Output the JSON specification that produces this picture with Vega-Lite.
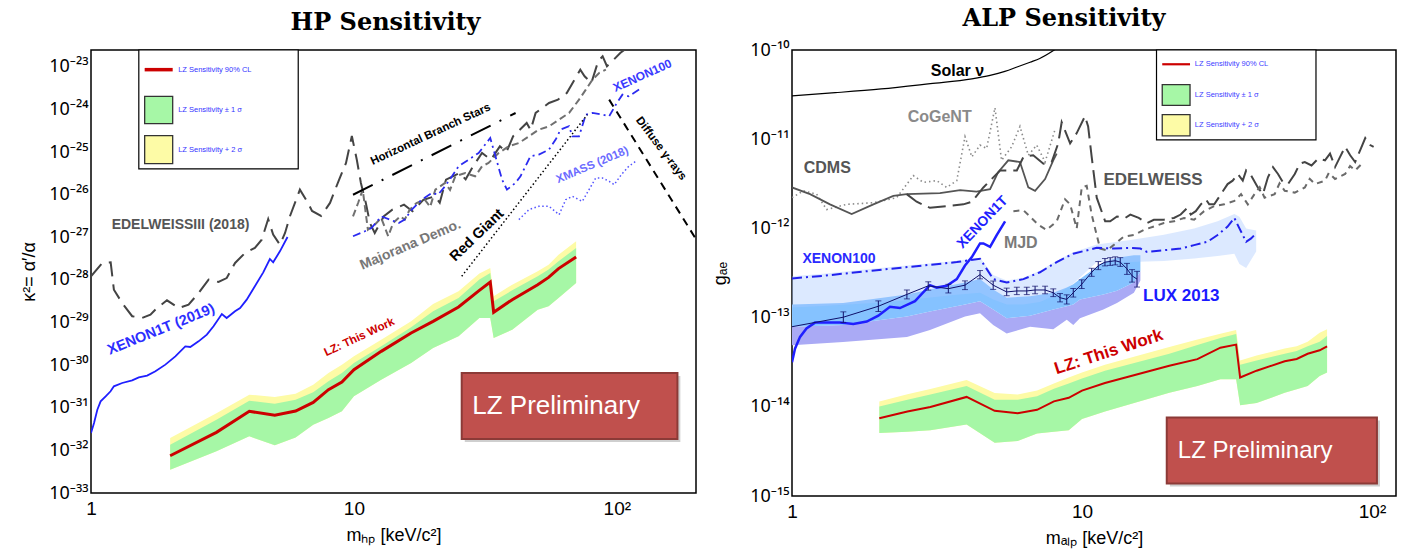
{
 "$schema": "https://vega.github.io/schema/vega-lite/v6.json",
 "background": "white",
 "padding": {"left": 19, "top": 6, "right": 4, "bottom": 4},
 "spacing": 12,
 "config": {
  "view": {"stroke": "#000", "strokeWidth": 1.5},
  "axis": {"domain": false, "grid": false, "labelFont": "Liberation Sans", "labelFontSize": 19, "labelColor": "#000", "titleFont": "Liberation Sans", "titleFontSize": 18, "titleFontWeight": "normal", "titleColor": "#000", "tickColor": "#000", "tickWidth": 1, "tickSize": 0, "labelOverlap": false, "labelFlush": false, "labelBound": false},
  "title": {"font": "DejaVu Serif", "fontSize": 24, "fontWeight": "bold", "color": "#000", "anchor": "middle"},
  "text": {"font": "Liberation Sans"}
 },
 "datasets": {
  "lzL": [
   {"x":2,"y":7.5e-33},{"x":3,"y":2.65e-32},{"x":4,"y":8.26e-32},{"x":5,"y":6.65e-32},{"x":6,"y":8.4e-32},{"x":7,"y":1.34e-31},{"x":8,"y":2.66e-31},{"x":9,"y":4.03e-31},{"x":10,"y":7.85e-31},{"x":12.7,"y":2.11e-30},{"x":16.5,"y":5.7e-30},{"x":20,"y":1.07e-29},{"x":25,"y":2.32e-29},{"x":30,"y":5.71e-29},{"x":33,"y":8.97e-29},{"x":34,"y":1.74e-29},{"x":40,"y":3.45e-29},{"x":50,"y":7.76e-29},{"x":55,"y":1.15e-28},{"x":60,"y":1.85e-28},{"x":70,"y":3.47e-28}
  ],
  "lzLg": [
   {"x":2,"y":3.52e-33,"y2":1.36e-32},{"x":3,"y":9.5e-33,"y2":5.26e-32},{"x":4,"y":2.14e-32,"y2":1.47e-31},{"x":5,"y":1.32e-32,"y2":1.25e-31},{"x":6,"y":2.02e-32,"y2":1.55e-31},{"x":7,"y":4.02e-32,"y2":2.31e-31},{"x":8,"y":5.75e-32,"y2":4.18e-31},{"x":9,"y":8.26e-32,"y2":6.56e-31},{"x":10,"y":1.86e-31,"y2":1.12e-30},{"x":12.7,"y":4.57e-31,"y2":2.77e-30},{"x":16.5,"y":1.12e-30,"y2":7.74e-30},{"x":20,"y":2.53e-30,"y2":1.84e-29},{"x":25,"y":4.75e-30,"y2":3.78e-29},{"x":30,"y":1.28e-29,"y2":1.02e-28},{"x":33,"y":1.28e-29,"y2":1.46e-28},{"x":34,"y":4.35e-30,"y2":3.16e-29},{"x":40,"y":6.82e-30,"y2":5.71e-29},{"x":50,"y":2.01e-29,"y2":1.22e-28},{"x":55,"y":2.41e-29,"y2":1.75e-28},{"x":60,"y":3.78e-29,"y2":2.74e-28},{"x":70,"y":8.49e-29,"y2":5.64e-28}
  ],
  "lzLy": [
   {"x":2,"y":3.52e-33,"y2":1.95e-32},{"x":3,"y":9.5e-33,"y2":7.4e-32},{"x":4,"y":2.14e-32,"y2":2.03e-31},{"x":5,"y":1.32e-32,"y2":1.79e-31},{"x":6,"y":2.02e-32,"y2":2.14e-31},{"x":7,"y":4.02e-32,"y2":3.49e-31},{"x":8,"y":5.75e-32,"y2":6.56e-31},{"x":9,"y":8.26e-32,"y2":1.03e-30},{"x":10,"y":1.86e-31,"y2":1.61e-30},{"x":12.7,"y":4.57e-31,"y2":3.97e-30},{"x":16.5,"y":1.12e-30,"y2":1.07e-29},{"x":20,"y":2.53e-30,"y2":2.73e-29},{"x":25,"y":4.75e-30,"y2":5.42e-29},{"x":30,"y":1.28e-29,"y2":1.41e-28},{"x":33,"y":1.28e-29,"y2":1.91e-28},{"x":34,"y":4.35e-30,"y2":4.13e-29},{"x":40,"y":6.82e-30,"y2":7.76e-29},{"x":50,"y":2.01e-29,"y2":1.6e-28},{"x":55,"y":2.41e-29,"y2":2.29e-28},{"x":60,"y":3.78e-29,"y2":3.93e-28},{"x":70,"y":8.49e-29,"y2":8.07e-28}
  ],
  "edelL": [
   {"x":1.0,"y":1.22e-28},{"x":1.104,"y":2.51e-28},{"x":1.188,"y":2.6e-28},{"x":1.222,"y":5.92e-29},{"x":1.314,"y":2.88e-29},{"x":1.434,"y":1.41e-29},{"x":1.564,"y":1.28e-29},{"x":1.683,"y":1.53e-29},{"x":1.783,"y":2.2e-29},{"x":1.945,"y":3.33e-29},{"x":2.154,"y":2.2e-29},{"x":2.35,"y":2.63e-29},{"x":2.566,"y":4.95e-29},{"x":2.8,"y":1.02e-28},{"x":3.054,"y":8.97e-29},{"x":3.282,"y":1.11e-28},{"x":3.532,"y":2.51e-28},{"x":3.855,"y":4.31e-28},{"x":4.2,"y":5.64e-28},{"x":4.46,"y":8.83e-28},{"x":4.72,"y":2.7e-27},{"x":4.93,"y":1.16e-27},{"x":5.23,"y":6.75e-28},{"x":5.47,"y":1.27e-27},{"x":5.71,"y":3.13e-27},{"x":6.23,"y":1.32e-26},{"x":6.69,"y":6.43e-27},{"x":6.93,"y":4.17e-27},{"x":7.5,"y":3.18e-27},{"x":8.11,"y":6.43e-27},{"x":8.77,"y":2.22e-26},{"x":9.33,"y":5.57e-26},{"x":9.82,"y":2.4e-25},{"x":10.26,"y":6.56e-26},{"x":10.63,"y":1.89e-26},{"x":11.1,"y":6.43e-27},{"x":11.5,"y":2.18e-27},{"x":12.0,"y":1.27e-27},{"x":13.0,"y":3.13e-27},{"x":14.0,"y":4.47e-27},{"x":15.5,"y":5.86e-27},{"x":16.7,"y":4.1e-27},{"x":18.4,"y":7.67e-27},{"x":20.3,"y":9.2e-27},{"x":21.2,"y":6.5e-27},{"x":22.4,"y":2.26e-26},{"x":25.2,"y":3.25e-26},{"x":26.6,"y":2.3e-26},{"x":28.4,"y":4.67e-26},{"x":30.7,"y":9.57e-26},{"x":33.2,"y":6.67e-26},{"x":35.9,"y":1.37e-25},{"x":38.0,"y":1.0e-25},{"x":40.3,"y":2.36e-25},{"x":45.4,"y":4.84e-25},{"x":47.0,"y":3.3e-25},{"x":49.1,"y":8.32e-25},{"x":55.2,"y":1.43e-24},{"x":59.7,"y":1.71e-24},{"x":64.5,"y":2.45e-24},{"x":72.6,"y":8.65e-24},{"x":75.4,"y":6.05e-24},{"x":80.0,"y":4.21e-24},{"x":84.9,"y":1.36e-23},{"x":88.3,"y":1.78e-23},{"x":91.7,"y":1.04e-23},{"x":97.3,"y":1.48e-23},{"x":103,"y":2.13e-23},{"x":107,"y":2.55e-23}
  ],
  "mjdL": [
   {"x":9.92,"y":3.12e-27},{"x":10.37,"y":6.41e-27},{"x":10.8,"y":1.32e-26},{"x":11.3,"y":1.52e-27},{"x":12.0,"y":1.99e-27},{"x":12.7,"y":2.85e-27},{"x":13.5,"y":1.06e-27},{"x":14.1,"y":2.18e-27},{"x":15.0,"y":3.12e-27},{"x":15.6,"y":2.61e-27},{"x":16.3,"y":4.48e-27},{"x":17.3,"y":6.41e-27},{"x":18.6,"y":7.67e-27},{"x":19.5,"y":5.2e-27},{"x":20.4,"y":1.32e-26},{"x":22.2,"y":1.89e-26},{"x":23.2,"y":1.3e-26},{"x":24.3,"y":2.71e-26},{"x":26.5,"y":3.24e-26},{"x":28.9,"y":2.71e-26},{"x":30.7,"y":4.66e-26},{"x":32.5,"y":5.57e-26},{"x":35.5,"y":9.57e-26},{"x":38.8,"y":1.37e-25},{"x":42.4,"y":1.64e-25},{"x":46.3,"y":2.36e-25},{"x":50.5,"y":3.38e-25},{"x":55.2,"y":4.05e-25},{"x":60.3,"y":5.8e-25},{"x":65.8,"y":8.32e-25},{"x":71.8,"y":1.71e-24},{"x":76.2,"y":2.94e-24},{"x":80.8,"y":5.04e-24},{"x":85.6,"y":7.23e-24},{"x":90.8,"y":8.65e-24}
  ],
  "xe1tL": [
   {"x":1.0,"y":2.56e-32},{"x":1.027,"y":4.4e-32},{"x":1.057,"y":9.0e-32},{"x":1.088,"y":1.42e-31},{"x":1.137,"y":1.86e-31},{"x":1.187,"y":2.44e-31},{"x":1.222,"y":3.19e-31},{"x":1.314,"y":3.82e-31},{"x":1.434,"y":4.42e-31},{"x":1.52,"y":5.19e-31},{"x":1.635,"y":5.68e-31},{"x":1.758,"y":7.18e-31},{"x":1.918,"y":1.03e-30},{"x":2.093,"y":1.61e-30},{"x":2.284,"y":2.77e-30},{"x":2.386,"y":2.67e-30},{"x":2.565,"y":3.63e-30},{"x":2.758,"y":5.21e-30},{"x":2.924,"y":8.17e-30},{"x":3.145,"y":1.59e-29},{"x":3.28,"y":1.28e-29},{"x":3.53,"y":1.84e-29},{"x":3.69,"y":2.2e-29},{"x":3.91,"y":3.45e-29},{"x":4.2,"y":7.1e-29},{"x":4.52,"y":1.51e-28},{"x":4.79,"y":3.11e-28},{"x":4.93,"y":2.6e-28},{"x":5.23,"y":4.71e-28},{"x":5.59,"y":1.02e-27}
  ],
  "xe100L": [
   {"x":9.92,"y":1.06e-27},{"x":11.0,"y":1.39e-27},{"x":11.66,"y":1.66e-27},{"x":12.7,"y":3.12e-27},{"x":13.7,"y":2.61e-27},{"x":14.8,"y":2.18e-27},{"x":15.6,"y":2.61e-27},{"x":16.6,"y":4.48e-27},{"x":18.1,"y":7.67e-27},{"x":19.8,"y":1.1e-26},{"x":20.9,"y":1.01e-26},{"x":22.2,"y":1.58e-26},{"x":23.6,"y":2.71e-26},{"x":25.0,"y":4.66e-26},{"x":27.3,"y":6.67e-26},{"x":29.8,"y":9.57e-26},{"x":33.0,"y":2.15e-25},{"x":36.6,"y":2.26e-26},{"x":38.2,"y":1.32e-26},{"x":41.1,"y":1.89e-26},{"x":43.0,"y":2.71e-26},{"x":46.9,"y":8.0e-26},{"x":50.5,"y":8.75e-26},{"x":55.2,"y":1.15e-25},{"x":58.5,"y":1.97e-25},{"x":61.1,"y":3.38e-25},{"x":65.8,"y":4.05e-25},{"x":67.7,"y":2.36e-25},{"x":71.8,"y":2.36e-25},{"x":76.2,"y":7.6e-25},{"x":80.8,"y":8.32e-25},{"x":88.1,"y":7.6e-25},{"x":93.5,"y":6.95e-25},{"x":99.1,"y":1.3e-24},{"x":105,"y":2.24e-24},{"x":111,"y":2.05e-24},{"x":124,"y":3.21e-24}
  ],
  "xmassL": [
   {"x":42.4,"y":2.61e-27},{"x":46.3,"y":4.48e-27},{"x":50.5,"y":5.36e-27},{"x":55.2,"y":5.36e-27},{"x":60.3,"y":3.41e-27},{"x":63.9,"y":7.67e-27},{"x":67.7,"y":9.2e-27},{"x":73.9,"y":7.0e-27},{"x":78.4,"y":1.32e-26},{"x":83.1,"y":2.48e-26},{"x":88.1,"y":2.48e-26},{"x":93.5,"y":2.07e-26},{"x":97.7,"y":1.73e-26},{"x":104,"y":2.96e-26},{"x":111,"y":4.66e-26},{"x":118,"y":6.1e-26}
  ],
  "lzR": [
   {"x":2,"y":7.43e-15},{"x":2.5,"y":8.85e-15},{"x":3,"y":9.93e-15},{"x":4,"y":1.29e-14},{"x":5,"y":9.02e-15},{"x":6,"y":8.48e-15},{"x":7,"y":9.25e-15},{"x":8,"y":1.15e-14},{"x":9,"y":1.26e-14},{"x":10,"y":1.52e-14},{"x":12,"y":1.85e-14},{"x":20,"y":2.89e-14},{"x":25,"y":3.42e-14},{"x":30,"y":4.6e-14},{"x":34,"y":4.98e-14},{"x":35.1,"y":2.13e-14},{"x":40,"y":2.54e-14},{"x":50,"y":3.24e-14},{"x":55,"y":3.44e-14},{"x":60,"y":3.93e-14},{"x":66,"y":4.3e-14},{"x":70,"y":4.77e-14}
  ],
  "lzRg": [
   {"x":2,"y":5.09e-15,"y2":1.01e-14},{"x":2.5,"y":5.24e-15,"y2":1.2e-14},{"x":3,"y":5.47e-15,"y2":1.37e-14},{"x":4,"y":6.35e-15,"y2":1.71e-14},{"x":5,"y":3.95e-15,"y2":1.2e-14},{"x":6,"y":4.13e-15,"y2":1.2e-14},{"x":7,"y":5.01e-15,"y2":1.31e-14},{"x":8,"y":5.24e-15,"y2":1.59e-14},{"x":9,"y":5.47e-15,"y2":1.82e-14},{"x":10,"y":7.31e-15,"y2":2.07e-14},{"x":12,"y":8.85e-15,"y2":2.54e-14},{"x":20,"y":1.44e-14,"y2":3.94e-14},{"x":25,"y":1.71e-14,"y2":4.94e-14},{"x":30,"y":2.04e-14,"y2":5.89e-14},{"x":34,"y":2.04e-14,"y2":6.53e-14},{"x":35.1,"y":1.04e-14,"y2":2.97e-14},{"x":40,"y":1.1e-14,"y2":3.3e-14},{"x":50,"y":1.44e-14,"y2":3.94e-14},{"x":55,"y":1.57e-14,"y2":4.22e-14},{"x":60,"y":1.71e-14,"y2":4.77e-14},{"x":66,"y":2.22e-14,"y2":5.35e-14},{"x":70,"y":2.43e-14,"y2":6.2e-14}
  ],
  "lzRy": [
   {"x":2,"y":5.09e-15,"y2":1.15e-14},{"x":2.5,"y":5.24e-15,"y2":1.38e-14},{"x":3,"y":5.47e-15,"y2":1.58e-14},{"x":4,"y":6.35e-15,"y2":2.0e-14},{"x":5,"y":3.95e-15,"y2":1.43e-14},{"x":6,"y":4.13e-15,"y2":1.37e-14},{"x":7,"y":5.01e-15,"y2":1.52e-14},{"x":8,"y":5.24e-15,"y2":1.82e-14},{"x":9,"y":5.47e-15,"y2":2.13e-14},{"x":10,"y":7.31e-15,"y2":2.43e-14},{"x":12,"y":8.85e-15,"y2":2.97e-14},{"x":20,"y":1.44e-14,"y2":4.69e-14},{"x":25,"y":1.71e-14,"y2":5.68e-14},{"x":30,"y":2.04e-14,"y2":6.59e-14},{"x":34,"y":2.04e-14,"y2":7.26e-14},{"x":35.1,"y":1.04e-14,"y2":3.3e-14},{"x":40,"y":1.1e-14,"y2":3.77e-14},{"x":50,"y":1.44e-14,"y2":4.49e-14},{"x":55,"y":1.57e-14,"y2":4.77e-14},{"x":60,"y":1.71e-14,"y2":5.35e-14},{"x":66,"y":2.22e-14,"y2":6.76e-14},{"x":70,"y":2.43e-14,"y2":7.39e-14}
  ],
  "solarR": [
   {"x":1.0,"y":3.06e-11},{"x":1.41,"y":3.32e-11},{"x":2.03,"y":3.66e-11},{"x":3.0,"y":4.2e-11},{"x":4.17,"y":4.75e-11},{"x":4.82,"y":5.19e-11},{"x":5.42,"y":5.75e-11},{"x":5.97,"y":6.44e-11},{"x":6.62,"y":7.3e-11},{"x":7.15,"y":8.04e-11},{"x":8.1,"y":1.02e-10}
  ],
  "cogentR": [
   {"x":1.0,"y":2.21e-12},{"x":1.094,"y":2.64e-12},{"x":1.216,"y":2.42e-12},{"x":1.317,"y":1.63e-12},{"x":1.388,"y":1.7e-12},{"x":1.543,"y":1.86e-12},{"x":1.908,"y":1.94e-12},{"x":2.296,"y":2.21e-12},{"x":2.62,"y":3.91e-12},{"x":2.838,"y":3.28e-12},{"x":3.155,"y":3.43e-12},{"x":3.415,"y":2.88e-12},{"x":3.7,"y":3.43e-12},{"x":3.95,"y":1.07e-11},{"x":4.17,"y":6.33e-12},{"x":4.45,"y":8.59e-12},{"x":4.69,"y":7.87e-12},{"x":5.01,"y":2.25e-11},{"x":5.28,"y":5.8e-12},{"x":5.72,"y":8.22e-12},{"x":6.11,"y":1.39e-11},{"x":6.53,"y":6.61e-12},{"x":6.98,"y":8.59e-12},{"x":7.46,"y":5.55e-12},{"x":8.07,"y":1.28e-11}
  ],
  "cdmsR": [
   {"x":1.0,"y":2.88e-12},{"x":1.154,"y":2.42e-12},{"x":1.352,"y":1.86e-12},{"x":1.606,"y":1.45e-12},{"x":1.908,"y":1.86e-12},{"x":2.236,"y":2.31e-12},{"x":2.486,"y":2.42e-12},{"x":3.237,"y":2.48e-12},{"x":3.8,"y":2.68e-12},{"x":4.33,"y":2.59e-12},{"x":4.82,"y":2.75e-12},{"x":5.14,"y":4.27e-12},{"x":5.57,"y":5.8e-12},{"x":6.11,"y":5.55e-12},{"x":6.53,"y":2.88e-12},{"x":6.89,"y":2.64e-12},{"x":7.46,"y":3.58e-12},{"x":7.96,"y":5.8e-12},{"x":8.18,"y":6.9e-12}
  ],
  "edelR": [
   {"x":2.486,"y":2.42e-12},{"x":2.69,"y":1.99e-12},{"x":2.99,"y":1.7e-12},{"x":3.415,"y":1.78e-12},{"x":3.9,"y":1.86e-12},{"x":4.17,"y":1.99e-12},{"x":4.57,"y":2.88e-12},{"x":5.22,"y":4.46e-12},{"x":5.96,"y":4.46e-12},{"x":6.28,"y":6.33e-12},{"x":6.79,"y":6.61e-12},{"x":7.36,"y":5.31e-12},{"x":7.86,"y":5.55e-12},{"x":8.28,"y":8.97e-12},{"x":8.51,"y":1.55e-11},{"x":9.1,"y":8.97e-12},{"x":9.59,"y":1.17e-11},{"x":10.24,"y":1.81e-11},{"x":10.5,"y":1.39e-11},{"x":10.8,"y":6.33e-12},{"x":11.24,"y":2.21e-12},{"x":12.02,"y":1.2e-12},{"x":12.51,"y":1.2e-12},{"x":13.2,"y":1.36e-12},{"x":14.1,"y":1.31e-12},{"x":14.68,"y":1.43e-12},{"x":15.69,"y":1.31e-12},{"x":16.77,"y":1.15e-12},{"x":17.69,"y":1.25e-12},{"x":19.16,"y":1.25e-12},{"x":20.75,"y":1.31e-12},{"x":21.89,"y":1.43e-12},{"x":23.09,"y":1.7e-12},{"x":23.71,"y":1.43e-12},{"x":24.68,"y":1.56e-12},{"x":25.69,"y":1.86e-12},{"x":26.73,"y":2.12e-12},{"x":27.46,"y":1.86e-12},{"x":28.58,"y":1.86e-12},{"x":30.14,"y":2.42e-12},{"x":31.78,"y":3.14e-12},{"x":33.08,"y":3.43e-12},{"x":34.43,"y":4.08e-12},{"x":35.84,"y":3.43e-12},{"x":36.81,"y":4.46e-12},{"x":38.3,"y":3.91e-12},{"x":40.4,"y":2.88e-12},{"x":42.06,"y":2.42e-12},{"x":43.77,"y":3.74e-12},{"x":45.56,"y":4.87e-12},{"x":47.41,"y":4.08e-12},{"x":49.35,"y":3.28e-12},{"x":51.35,"y":3.14e-12},{"x":54.17,"y":4.08e-12},{"x":56.36,"y":5.31e-12},{"x":58.67,"y":5.55e-12},{"x":61.87,"y":5.08e-12},{"x":65.27,"y":6.05e-12},{"x":68.85,"y":5.8e-12},{"x":71.65,"y":6.9e-12},{"x":74.58,"y":4.87e-12},{"x":77.62,"y":6.33e-12},{"x":80.79,"y":8.22e-12},{"x":84.09,"y":6.61e-12},{"x":87.5,"y":5.55e-12},{"x":91.07,"y":7.53e-12},{"x":94.78,"y":1.03e-11},{"x":98.6,"y":8.59e-12},{"x":101.3,"y":8.22e-12}
  ],
  "mjdR": [
   {"x":5.8,"y":1.56e-12},{"x":6.28,"y":1.6e-12},{"x":7.07,"y":1.1e-12},{"x":7.55,"y":9.6e-13},{"x":8.18,"y":1.2e-12},{"x":8.74,"y":2.12e-12},{"x":9.1,"y":1.86e-12},{"x":9.59,"y":1.0e-12},{"x":9.98,"y":2.88e-12},{"x":10.38,"y":3.0e-12},{"x":10.8,"y":1.43e-12},{"x":11.24,"y":8.4e-13},{"x":11.55,"y":5.94e-13},{"x":12.18,"y":5.69e-13},{"x":12.85,"y":6.49e-13},{"x":13.92,"y":8.07e-13},{"x":15.08,"y":8.43e-13},{"x":16.33,"y":9.62e-13},{"x":17.69,"y":1.05e-12},{"x":19.16,"y":1.15e-12},{"x":20.75,"y":1.2e-12},{"x":22.48,"y":1.31e-12},{"x":24.35,"y":1.25e-12},{"x":26.37,"y":1.56e-12},{"x":28.58,"y":1.78e-12},{"x":30.95,"y":1.86e-12},{"x":33.53,"y":2.03e-12},{"x":35.36,"y":2.42e-12},{"x":37.31,"y":1.86e-12},{"x":39.34,"y":2.42e-12},{"x":41.0,"y":2.9e-12},{"x":42.61,"y":2.21e-12},{"x":46.16,"y":2.42e-12},{"x":48.0,"y":3.2e-12},{"x":50.0,"y":2.64e-12},{"x":54.17,"y":2.52e-12},{"x":58.67,"y":2.88e-12},{"x":61.0,"y":3.6e-12},{"x":63.56,"y":3.14e-12},{"x":68.85,"y":3.43e-12},{"x":71.0,"y":4.2e-12},{"x":74.58,"y":3.58e-12},{"x":80.79,"y":4.08e-12},{"x":84.0,"y":5.0e-12},{"x":87.5,"y":4.46e-12},{"x":93.5,"y":5.55e-12}
  ],
  "xe100R": [
   {"x":1.0,"y":2.75e-13},{"x":1.282,"y":2.94e-13},{"x":1.671,"y":3.22e-13},{"x":2.177,"y":3.52e-13},{"x":2.838,"y":3.84e-13},{"x":3.7,"y":4.19e-13},{"x":4.45,"y":4.57e-13},{"x":4.69,"y":3.52e-13},{"x":4.94,"y":2.7e-13},{"x":5.5,"y":2.47e-13},{"x":6.28,"y":2.7e-13},{"x":7.16,"y":3.22e-13},{"x":8.18,"y":4.19e-13},{"x":9.33,"y":5.21e-13},{"x":11.24,"y":6.05e-13},{"x":12.85,"y":5.94e-13},{"x":14.68,"y":6.05e-13},{"x":15.9,"y":5.94e-13},{"x":16.77,"y":5.45e-13},{"x":19.16,"y":5.69e-13},{"x":21.89,"y":5.94e-13},{"x":24.35,"y":6.49e-13},{"x":27.1,"y":7.08e-13},{"x":29.35,"y":8.43e-13},{"x":31.78,"y":1.05e-12},{"x":33.53,"y":1.31e-12},{"x":34.9,"y":1.0e-12},{"x":36.81,"y":7.08e-13},{"x":38.3,"y":7.73e-13},{"x":39.87,"y":8.81e-13}
  ],
  "xe100bandR": [
   {"x":1.0,"y":1.3e-13,"y2":2.9e-13},{"x":1.28,"y":1.35e-13,"y2":3.1e-13},{"x":2.18,"y":1.5e-13,"y2":3.7e-13},{"x":2.84,"y":1.65e-13,"y2":4.0e-13},{"x":3.7,"y":1.8e-13,"y2":4.35e-13},{"x":4.45,"y":1.9e-13,"y2":4.7e-13},{"x":4.94,"y":1.6e-13,"y2":3.0e-13},{"x":5.5,"y":1.4e-13,"y2":2.6e-13},{"x":6.28,"y":1.4e-13,"y2":2.8e-13},{"x":7.16,"y":1.5e-13,"y2":3.35e-13},{"x":8.18,"y":1.8e-13,"y2":4.35e-13},{"x":9.33,"y":2.4e-13,"y2":5.4e-13},{"x":11.24,"y":4.2e-13,"y2":6.6e-13},{"x":14.68,"y":4.2e-13,"y2":7.4e-13},{"x":19.16,"y":4.3e-13,"y2":8.5e-13},{"x":24.35,"y":4.6e-13,"y2":1.0e-12},{"x":29.35,"y":4.9e-13,"y2":1.2e-12},{"x":33.53,"y":5.2e-13,"y2":1.45e-12},{"x":34.9,"y":4.0e-13,"y2":1.35e-12},{"x":36.81,"y":3.6e-13,"y2":1.0e-12},{"x":39.87,"y":5.5e-13,"y2":9.5e-13}
  ],
  "xe1tR": [
   {"x":1.0,"y":3.16e-14},{"x":1.024,"y":4.48e-14},{"x":1.066,"y":6.08e-14},{"x":1.122,"y":7.57e-14},{"x":1.2,"y":8.79e-14},{"x":1.282,"y":8.79e-14},{"x":1.464,"y":8.79e-14},{"x":1.627,"y":8.49e-14},{"x":1.81,"y":9.03e-14},{"x":1.985,"y":1.05e-13},{"x":2.177,"y":1.32e-13},{"x":2.357,"y":1.28e-13},{"x":2.655,"y":1.53e-13},{"x":2.99,"y":2.31e-13},{"x":3.155,"y":2.17e-13},{"x":3.415,"y":2.27e-13},{"x":3.7,"y":2.7e-13},{"x":3.95,"y":3.83e-13},{"x":4.17,"y":4.77e-13},{"x":4.45,"y":6.78e-13},{"x":4.57,"y":6.78e-13},{"x":4.82,"y":6.21e-13},{"x":5.08,"y":8.43e-13},{"x":5.43,"y":1.2e-12}
  ],
  "luxLav": [
   {"x":1.0,"y":4.89e-14,"y2":7.9e-14},{"x":1.5,"y":5.33e-14,"y2":8.26e-14},{"x":2.49,"y":6.08e-14,"y2":1.03e-13},{"x":2.99,"y":7.24e-14,"y2":1.17e-13},{"x":3.95,"y":1.03e-13,"y2":1.4e-13},{"x":4.45,"y":1.12e-13,"y2":1.53e-13},{"x":4.94,"y":8.26e-14,"y2":1.23e-13},{"x":5.5,"y":6.64e-14,"y2":9.86e-14},{"x":6.62,"y":7.9e-14,"y2":1.05e-13},{"x":7.96,"y":7.38e-14,"y2":1.23e-13},{"x":8.86,"y":9.44e-14,"y2":1.34e-13},{"x":9.33,"y":8.26e-14,"y2":1.4e-13},{"x":9.84,"y":9.86e-14,"y2":1.6e-13},{"x":11.85,"y":1.23e-13,"y2":1.82e-13},{"x":13.2,"y":1.46e-13,"y2":2.0e-13},{"x":15.1,"y":1.9e-13,"y2":2.48e-13},{"x":15.9,"y":2.6e-13,"y2":3.3e-13}
  ],
  "luxBlue": [
   {"x":1.0,"y":7.9e-14,"y2":1.4e-13},{"x":1.5,"y":8.26e-14,"y2":1.46e-13},{"x":2.49,"y":1.03e-13,"y2":1.82e-13},{"x":2.99,"y":1.17e-13,"y2":2.07e-13},{"x":3.95,"y":1.4e-13,"y2":2.47e-13},{"x":4.45,"y":1.53e-13,"y2":2.7e-13},{"x":4.94,"y":1.23e-13,"y2":2.07e-13},{"x":5.5,"y":9.86e-14,"y2":1.67e-13},{"x":6.62,"y":1.05e-13,"y2":1.74e-13},{"x":7.96,"y":1.23e-13,"y2":1.9e-13},{"x":8.86,"y":1.34e-13,"y2":2.17e-13},{"x":9.33,"y":1.4e-13,"y2":2.37e-13},{"x":9.84,"y":1.6e-13,"y2":2.7e-13},{"x":11.85,"y":1.82e-13,"y2":4.18e-13},{"x":13.2,"y":2.0e-13,"y2":4.7e-13},{"x":15.1,"y":2.48e-13,"y2":5.0e-13},{"x":15.9,"y":3.3e-13,"y2":5.0e-13}
  ],
  "luxR": [
   {"x":1.0,"y":7.9e-14},{"x":1.503,"y":1.01e-13},{"x":1.985,"y":1.34e-13},{"x":2.49,"y":1.82e-13},{"x":2.95,"y":2.27e-13},{"x":3.46,"y":2.11e-13},{"x":3.95,"y":2.31e-13},{"x":4.45,"y":3.03e-13},{"x":4.94,"y":2.31e-13},{"x":5.5,"y":1.94e-13},{"x":5.96,"y":1.99e-13},{"x":6.45,"y":1.99e-13},{"x":6.89,"y":2.04e-13},{"x":7.46,"y":2.04e-13},{"x":7.96,"y":1.9e-13},{"x":8.4,"y":1.67e-13},{"x":8.86,"y":1.6e-13},{"x":9.33,"y":1.9e-13},{"x":9.98,"y":2.37e-13},{"x":10.8,"y":3.22e-13},{"x":11.38,"y":3.83e-13},{"x":12.0,"y":4.18e-13},{"x":12.51,"y":4.26e-13},{"x":13.02,"y":4.34e-13},{"x":13.55,"y":4.19e-13},{"x":14.29,"y":3.52e-13},{"x":14.88,"y":2.94e-13},{"x":15.48,"y":2.7e-13}
  ],
  "luxErr": [
   {"x":1.503,"y":8.8e-14,"y2":1.16e-13},{"x":1.985,"y":1.17e-13,"y2":1.54e-13},{"x":2.49,"y":1.62e-13,"y2":2.04e-13},{"x":2.95,"y":2.03e-13,"y2":2.52e-13},{"x":3.46,"y":1.89e-13,"y2":2.36e-13},{"x":3.95,"y":2.06e-13,"y2":2.58e-13},{"x":4.45,"y":2.72e-13,"y2":3.37e-13},{"x":4.94,"y":2.07e-13,"y2":2.57e-13},{"x":5.5,"y":1.76e-13,"y2":2.14e-13},{"x":5.96,"y":1.81e-13,"y2":2.19e-13},{"x":6.45,"y":1.81e-13,"y2":2.19e-13},{"x":6.89,"y":1.85e-13,"y2":2.25e-13},{"x":7.46,"y":1.85e-13,"y2":2.25e-13},{"x":7.96,"y":1.72e-13,"y2":2.1e-13},{"x":8.4,"y":1.5e-13,"y2":1.86e-13},{"x":8.86,"y":1.42e-13,"y2":1.8e-13},{"x":9.33,"y":1.7e-13,"y2":2.12e-13},{"x":9.98,"y":2.12e-13,"y2":2.65e-13},{"x":10.8,"y":2.9e-13,"y2":3.57e-13},{"x":11.38,"y":3.45e-13,"y2":4.25e-13},{"x":12.0,"y":3.8e-13,"y2":4.6e-13},{"x":12.51,"y":3.85e-13,"y2":4.7e-13},{"x":13.02,"y":3.9e-13,"y2":4.8e-13},{"x":13.55,"y":3.75e-13,"y2":4.7e-13},{"x":14.29,"y":3.05e-13,"y2":4.05e-13},{"x":14.88,"y":2.5e-13,"y2":3.45e-13},{"x":15.48,"y":2.2e-13,"y2":3.3e-13}
  ]
 },
 "hconcat": [
  {
   "title": {"text": "HP Sensitivity", "offset": -9, "baseline": "alphabetic", "dx": -8},
   "width": 605,
   "height": 443,
   "encoding": {
    "x": {"field": "x", "type": "quantitative", "scale": {"type": "log", "domain": [1, 200], "nice": false},
     "axis": {"title": "mₕₚ [keV/c²]", "values": [1,2,3,4,5,6,7,8,9,10,20,30,40,50,60,70,80,90,100,200],
      "labelExpr": "datum.value == 1 ? '1' : datum.value == 10 ? '10' : datum.value == 100 ? '10²' : ''",
      "labelPadding": 6, "titlePadding": 8,
      "encode": {"ticks": {"update": {"y2": {"signal": "(datum.value == 1 || datum.value == 10 || datum.value == 100) ? -13 : -7"}}}}}},
    "y": {"field": "y", "type": "quantitative", "scale": {"type": "log", "domain": [1e-33, 2.5e-23], "nice": false},
     "axis": {"title": "κ²= α′/α", "labelFont": "Noto Sans", "labelFontSize": 18, "values": [1e-33,2e-33,3e-33,4e-33,5e-33,6e-33,7e-33,8e-33,9e-33,1e-32,2e-32,3e-32,4e-32,5e-32,6e-32,7e-32,8e-32,9e-32,1e-31,2e-31,3e-31,4e-31,5e-31,6e-31,7e-31,8e-31,9e-31,1e-30,2e-30,3e-30,4e-30,5e-30,6e-30,7e-30,8e-30,9e-30,1e-29,2e-29,3e-29,4e-29,5e-29,6e-29,7e-29,8e-29,9e-29,1e-28,2e-28,3e-28,4e-28,5e-28,6e-28,7e-28,8e-28,9e-28,1e-27,2e-27,3e-27,4e-27,5e-27,6e-27,7e-27,8e-27,9e-27,1e-26,2e-26,3e-26,4e-26,5e-26,6e-26,7e-26,8e-26,9e-26,1e-25,2e-25,3e-25,4e-25,5e-25,6e-25,7e-25,8e-25,9e-25,1e-24,2e-24,3e-24,4e-24,5e-24,6e-24,7e-24,8e-24,9e-24,1e-23,2e-23],
      "labelExpr": "abs(log(datum.value)/LN10 - round(log(datum.value)/LN10)) < 0.001 ? '10⁻' + ['⁰','¹','²','³','⁴','⁵','⁶','⁷','⁸','⁹'][floor(-round(log(datum.value)/LN10)/10)] + ['⁰','¹','²','³','⁴','⁵','⁶','⁷','⁸','⁹'][(-round(log(datum.value)/LN10)) % 10] : ''",
      "labelPadding": 3, "titlePadding": 10,
      "encode": {"ticks": {"update": {"x2": {"signal": "abs(log(datum.value)/LN10 - round(log(datum.value)/LN10)) < 0.001 ? 16 : 8"}}}}}}
   },
   "layer": [
    {"data": {"name": "lzLy"}, "mark": {"type": "area", "clip": true, "color": "#fdfba6"}, "encoding": {"y2": {"field": "y2"}}},
    {"data": {"name": "lzLg"}, "mark": {"type": "area", "clip": true, "color": "#a6f7a6"}, "encoding": {"y2": {"field": "y2"}}},
    {"data": {"name": "lzL"}, "mark": {"type": "line", "clip": true, "strokeWidth": 3, "color": "#cc0000"}},
    {"data": {"name": "edelL"}, "mark": {"type": "line", "clip": true, "color": "#444444", "strokeWidth": 2, "strokeDash": [16, 8]}},
    {"data": {"name": "mjdL"}, "mark": {"type": "line", "clip": true, "color": "#707070", "strokeWidth": 2, "strokeDash": [7, 4]}},
    {"data": {"name": "xe1tL"}, "mark": {"type": "line", "clip": true, "color": "#1f1fff", "strokeWidth": 1.8}},
    {"data": {"name": "xe100L"}, "mark": {"type": "line", "clip": true, "color": "#2b2bf0", "strokeWidth": 1.8, "strokeDash": [8, 4, 2, 4]}},
    {"data": {"name": "xmassL"}, "mark": {"type": "line", "clip": true, "color": "#5555ff", "strokeWidth": 1.5, "strokeDash": [1.5, 2.5]}},
    {"data": {"values": [{"x": 9.92, "y": 1.0e-26}, {"x": 41.2, "y": 8.3e-25}]}, "mark": {"type": "line", "clip": true, "color": "#000", "strokeWidth": 2, "strokeDash": [22, 10, 2, 10]}},
    {"data": {"values": [{"x": 25.7, "y": 1.22e-28}, {"x": 77.2, "y": 7.6e-25}]}, "mark": {"type": "line", "clip": true, "color": "#000", "strokeWidth": 1.5, "strokeDash": [1.5, 2.5]}},
    {"data": {"values": [{"x": 93.5, "y": 1.71e-24}, {"x": 200, "y": 9.1e-28}]}, "mark": {"type": "line", "clip": true, "color": "#000", "strokeWidth": 2, "strokeDash": [8, 6]}},
    {"data": {"values": [{"x": 1.52, "x2": 6.14, "y": 4.04e-26, "y2": 2.5e-23}]}, "mark": {"type": "rect", "fill": "#ffffff", "stroke": "#000", "strokeWidth": 1.2}, "encoding": {"x2": {"field": "x2"}, "y2": {"field": "y2"}}},
    {"data": {"values": [{"x": 1.6, "x2": 2.045, "y": 8.64e-24}]}, "mark": {"type": "rule", "color": "#cc0000", "strokeWidth": 3.5}, "encoding": {"x2": {"field": "x2"}}},
    {"data": {"values": [{"x": 1.6, "x2": 2.045, "y": 4.66e-25, "y2": 2.05e-24}]}, "mark": {"type": "rect", "fill": "#a6f7a6", "stroke": "#333", "strokeWidth": 1.3}, "encoding": {"x2": {"field": "x2"}, "y2": {"field": "y2"}}},
    {"data": {"values": [{"x": 1.6, "x2": 2.045, "y": 5.37e-26, "y2": 2.44e-25}]}, "mark": {"type": "rect", "fill": "#fdfba6", "stroke": "#333", "strokeWidth": 1.3}, "encoding": {"x2": {"field": "x2"}, "y2": {"field": "y2"}}},
    {"data": {"values": [{"x": 2.145, "y": 8.64e-24, "t": "LZ Sensitivity 90% CL"}, {"x": 2.145, "y": 9.95e-25, "t": "LZ Sensitivity ± 1 σ"}, {"x": 2.145, "y": 1.15e-25, "t": "LZ Sensitivity + 2 σ"}]}, "mark": {"type": "text", "align": "left", "fontSize": 7.5, "color": "#3333ff"}, "encoding": {"text": {"field": "t"}}},
    {"data": {"values": [{"x": 26.4, "x2": 174.4, "y": 1.57e-32, "y2": 5.58e-31}]}, "mark": {"type": "rect", "fill": "#a0a0a0", "opacity": 0.5}, "encoding": {"x2": {"field": "x2"}, "y2": {"field": "y2"}}},
    {"data": {"values": [{"x": 25.7, "x2": 170, "y": 1.85e-32, "y2": 6.56e-31}]}, "mark": {"type": "rect", "fill": "#c0504d", "stroke": "#8c3a37", "strokeWidth": 2}, "encoding": {"x2": {"field": "x2"}, "y2": {"field": "y2"}}},
    {"data": {"values": [{"x": 28.2, "y": 7.15e-32, "t": "LZ Preliminary"}]}, "mark": {"type": "text", "align": "left", "baseline": "alphabetic", "fontSize": 26, "color": "#ffffff"}, "encoding": {"text": {"field": "t"}}},
    {"data": {"values": [{"x": 2.19, "y": 1.9e-27, "t": "EDELWEISSIII (2018)"}]}, "mark": {"type": "text", "fontWeight": "bold", "fontSize": 14, "color": "#555555"}, "encoding": {"text": {"field": "t"}}},
    {"data": {"values": [{"x": 1.85, "y": 6.8e-30, "t": "XENON1T (2019)"}]}, "mark": {"type": "text", "fontWeight": "bold", "fontSize": 14.5, "color": "#2d2dff", "angle": -22}, "encoding": {"text": {"field": "t"}}},
    {"data": {"values": [{"x": 16.4, "y": 6.64e-28, "t": "Majorana Demo."}]}, "mark": {"type": "text", "fontWeight": "bold", "fontSize": 14, "color": "#777777", "angle": -23}, "encoding": {"text": {"field": "t"}}},
    {"data": {"values": [{"x": 29.4, "y": 1.11e-27, "t": "Red Giant"}]}, "mark": {"type": "text", "fontWeight": "bold", "fontSize": 14.5, "color": "#000000", "angle": -44}, "encoding": {"text": {"field": "t"}}},
    {"data": {"values": [{"x": 19.6, "y": 2.58e-25, "t": "Horizontal Branch Stars"}]}, "mark": {"type": "text", "fontWeight": "bold", "fontSize": 11.5, "color": "#000000", "angle": -25}, "encoding": {"text": {"field": "t"}}},
    {"data": {"values": [{"x": 125, "y": 6.3e-24, "t": "XENON100"}]}, "mark": {"type": "text", "fontWeight": "bold", "fontSize": 12, "color": "#3a3aff", "angle": -24}, "encoding": {"text": {"field": "t"}}},
    {"data": {"values": [{"x": 80.8, "y": 4.88e-26, "t": "XMASS (2018)"}]}, "mark": {"type": "text", "fontWeight": "bold", "fontSize": 11.5, "color": "#6b6bff", "angle": -23}, "encoding": {"text": {"field": "t"}}},
    {"data": {"values": [{"x": 147, "y": 1.2e-25, "t": "Diffuse γ-rays"}]}, "mark": {"type": "text", "fontWeight": "bold", "fontSize": 11.5, "color": "#000000", "angle": 53}, "encoding": {"text": {"field": "t"}}},
    {"data": {"values": [{"x": 10.5, "y": 4.47e-30, "t": "LZ: This Work"}]}, "mark": {"type": "text", "fontWeight": "bold", "fontSize": 11.5, "color": "#cc0000", "angle": -25}, "encoding": {"text": {"field": "t"}}}
   ]
  },
  {
   "title": {"text": "ALP Sensitivity", "offset": -9, "baseline": "alphabetic", "dx": -30},
   "width": 604,
   "height": 446,
   "encoding": {
    "x": {"field": "x", "type": "quantitative", "scale": {"type": "log", "domain": [1, 121], "nice": false},
     "axis": {"title": "mₐₗₚ [keV/c²]", "values": [1,2,3,4,5,6,7,8,9,10,20,30,40,50,60,70,80,90,100],
      "labelExpr": "datum.value == 1 ? '1' : datum.value == 10 ? '10' : datum.value == 100 ? '10²' : ''",
      "labelPadding": 6, "titlePadding": 8,
      "encode": {"ticks": {"update": {"y2": {"signal": "(datum.value == 1 || datum.value == 10 || datum.value == 100) ? -13 : -7"}}}}}},
    "y": {"field": "y", "type": "quantitative", "scale": {"type": "log", "domain": [1e-15, 1e-10], "nice": false},
     "axis": {"title": "gₐₑ", "labelFont": "Noto Sans", "labelFontSize": 18, "values": [1e-15,2e-15,3e-15,4e-15,5e-15,6e-15,7e-15,8e-15,9e-15,1e-14,2e-14,3e-14,4e-14,5e-14,6e-14,7e-14,8e-14,9e-14,1e-13,2e-13,3e-13,4e-13,5e-13,6e-13,7e-13,8e-13,9e-13,1e-12,2e-12,3e-12,4e-12,5e-12,6e-12,7e-12,8e-12,9e-12,1e-11,2e-11,3e-11,4e-11,5e-11,6e-11,7e-11,8e-11,9e-11,1e-10],
      "labelExpr": "abs(log(datum.value)/LN10 - round(log(datum.value)/LN10)) < 0.001 ? '10⁻' + ['⁰','¹','²','³','⁴','⁵','⁶','⁷','⁸','⁹'][floor(-round(log(datum.value)/LN10)/10)] + ['⁰','¹','²','³','⁴','⁵','⁶','⁷','⁸','⁹'][(-round(log(datum.value)/LN10)) % 10] : ''",
      "labelPadding": 3, "titlePadding": 20,
      "encode": {"ticks": {"update": {"x2": {"signal": "abs(log(datum.value)/LN10 - round(log(datum.value)/LN10)) < 0.001 ? 16 : 8"}}}}}}
   },
   "layer": [
    {"data": {"name": "luxLav"}, "mark": {"type": "area", "clip": true, "color": "#aaaaf5"}, "encoding": {"y2": {"field": "y2"}}},
    {"data": {"name": "luxBlue"}, "mark": {"type": "area", "clip": true, "color": "#85c2ff"}, "encoding": {"y2": {"field": "y2"}}},
    {"data": {"name": "xe100bandR"}, "mark": {"type": "area", "clip": true, "color": "#a8c8ff", "opacity": 0.4}, "encoding": {"y2": {"field": "y2"}}},
    {"data": {"name": "solarR"}, "mark": {"type": "line", "clip": true, "color": "#000", "strokeWidth": 1.2, "interpolate": "monotone"}},
    {"data": {"name": "cogentR"}, "mark": {"type": "line", "clip": true, "color": "#8a8a8a", "strokeWidth": 1.6, "strokeDash": [1.5, 3]}},
    {"data": {"name": "cdmsR"}, "mark": {"type": "line", "clip": true, "color": "#555555", "strokeWidth": 1.8}},
    {"data": {"name": "edelR"}, "mark": {"type": "line", "clip": true, "color": "#444444", "strokeWidth": 2, "strokeDash": [18, 7]}},
    {"data": {"name": "mjdR"}, "mark": {"type": "line", "clip": true, "color": "#6a6a6a", "strokeWidth": 2, "strokeDash": [6, 5]}},
    {"data": {"name": "xe100R"}, "mark": {"type": "line", "clip": true, "color": "#2222ee", "strokeWidth": 2, "strokeDash": [10, 4, 2, 4]}},
    {"data": {"name": "xe1tR"}, "mark": {"type": "line", "clip": true, "color": "#1f1fff", "strokeWidth": 2.5}},
    {"data": {"name": "luxR"}, "mark": {"type": "line", "clip": true, "color": "#10106a", "strokeWidth": 1}},
    {"data": {"name": "luxErr"}, "mark": {"type": "errorbar", "ticks": {"size": 6, "thickness": 1}, "color": "#10106a", "thickness": 1}, "encoding": {"y2": {"field": "y2"}}},
    {"data": {"name": "lzRy"}, "mark": {"type": "area", "clip": true, "color": "#fdfba6"}, "encoding": {"y2": {"field": "y2"}}},
    {"data": {"name": "lzRg"}, "mark": {"type": "area", "clip": true, "color": "#a6f7a6"}, "encoding": {"y2": {"field": "y2"}}},
    {"data": {"name": "lzR"}, "mark": {"type": "line", "clip": true, "strokeWidth": 2, "color": "#cc0000"}},
    {"data": {"values": [{"x": 18.07, "x2": 64.1, "y": 9.82e-12, "y2": 1e-10}]}, "mark": {"type": "rect", "fill": "#ffffff", "stroke": "#000", "strokeWidth": 1.2}, "encoding": {"x2": {"field": "x2"}, "y2": {"field": "y2"}}},
    {"data": {"values": [{"x": 18.91, "x2": 23.58, "y": 6.92e-11}]}, "mark": {"type": "rule", "color": "#cc0000", "strokeWidth": 2.2}, "encoding": {"x2": {"field": "x2"}}},
    {"data": {"values": [{"x": 18.91, "x2": 23.58, "y": 2.4e-11, "y2": 4.09e-11}]}, "mark": {"type": "rect", "fill": "#a6f7a6", "stroke": "#333", "strokeWidth": 1.3}, "encoding": {"x2": {"field": "x2"}, "y2": {"field": "y2"}}},
    {"data": {"values": [{"x": 18.91, "x2": 23.58, "y": 1.09e-11, "y2": 1.89e-11}]}, "mark": {"type": "rect", "fill": "#fdfba6", "stroke": "#333", "strokeWidth": 1.3}, "encoding": {"x2": {"field": "x2"}, "y2": {"field": "y2"}}},
    {"data": {"values": [{"x": 24.5, "y": 6.92e-11, "t": "LZ Sensitivity 90% CL"}, {"x": 24.5, "y": 3.17e-11, "t": "LZ Sensitivity ± 1 σ"}, {"x": 24.5, "y": 1.46e-11, "t": "LZ Sensitivity + 2 σ"}]}, "mark": {"type": "text", "align": "left", "fontSize": 7.5, "color": "#4040ff"}, "encoding": {"text": {"field": "t"}}},
    {"data": {"values": [{"x": 20.1, "x2": 106.5, "y": 1.28e-15, "y2": 7.0e-15}]}, "mark": {"type": "rect", "fill": "#a0a0a0", "opacity": 0.5}, "encoding": {"x2": {"field": "x2"}, "y2": {"field": "y2"}}},
    {"data": {"values": [{"x": 19.6, "x2": 104, "y": 1.38e-15, "y2": 7.57e-15}]}, "mark": {"type": "rect", "fill": "#c0504d", "stroke": "#8c3a37", "strokeWidth": 2}, "encoding": {"x2": {"field": "x2"}, "y2": {"field": "y2"}}},
    {"data": {"values": [{"x": 21.4, "y": 2.64e-15, "t": "LZ Preliminary"}]}, "mark": {"type": "text", "align": "left", "baseline": "alphabetic", "fontSize": 24, "color": "#ffffff"}, "encoding": {"text": {"field": "t"}}},
    {"data": {"values": [{"x": 3.72, "y": 5.75e-11, "t": "Solar ν"}]}, "mark": {"type": "text", "fontWeight": "bold", "fontSize": 16, "color": "#000000"}, "encoding": {"text": {"field": "t"}}},
    {"data": {"values": [{"x": 3.23, "y": 1.77e-11, "t": "CoGeNT"}]}, "mark": {"type": "text", "fontWeight": "bold", "fontSize": 16, "color": "#8a8a8a"}, "encoding": {"text": {"field": "t"}}},
    {"data": {"values": [{"x": 1.323, "y": 4.7e-12, "t": "CDMS"}]}, "mark": {"type": "text", "fontWeight": "bold", "fontSize": 16, "color": "#555555"}, "encoding": {"text": {"field": "t"}}},
    {"data": {"values": [{"x": 17.58, "y": 3.51e-12, "t": "EDELWEISS"}]}, "mark": {"type": "text", "fontWeight": "bold", "fontSize": 17, "color": "#555555"}, "encoding": {"text": {"field": "t"}}},
    {"data": {"values": [{"x": 6.15, "y": 6.78e-13, "t": "MJD"}]}, "mark": {"type": "text", "fontWeight": "bold", "fontSize": 16, "color": "#7a7a7a"}, "encoding": {"text": {"field": "t"}}},
    {"data": {"values": [{"x": 1.452, "y": 4.57e-13, "t": "XENON100"}]}, "mark": {"type": "text", "fontWeight": "bold", "fontSize": 14, "color": "#2a2aff"}, "encoding": {"text": {"field": "t"}}},
    {"data": {"values": [{"x": 4.54, "y": 1.17e-12, "t": "XENON1T"}]}, "mark": {"type": "text", "fontWeight": "bold", "fontSize": 14, "color": "#1f1fff", "angle": -46}, "encoding": {"text": {"field": "t"}}},
    {"data": {"values": [{"x": 22.0, "y": 1.74e-13, "t": "LUX 2013"}]}, "mark": {"type": "text", "fontWeight": "bold", "fontSize": 17, "color": "#1a1aff"}, "encoding": {"text": {"field": "t"}}},
    {"data": {"values": [{"x": 12.37, "y": 4.1e-14, "t": "LZ: This Work"}]}, "mark": {"type": "text", "fontWeight": "bold", "fontSize": 17, "color": "#cc0000", "angle": -18}, "encoding": {"text": {"field": "t"}}}
   ]
  }
 ]
}
